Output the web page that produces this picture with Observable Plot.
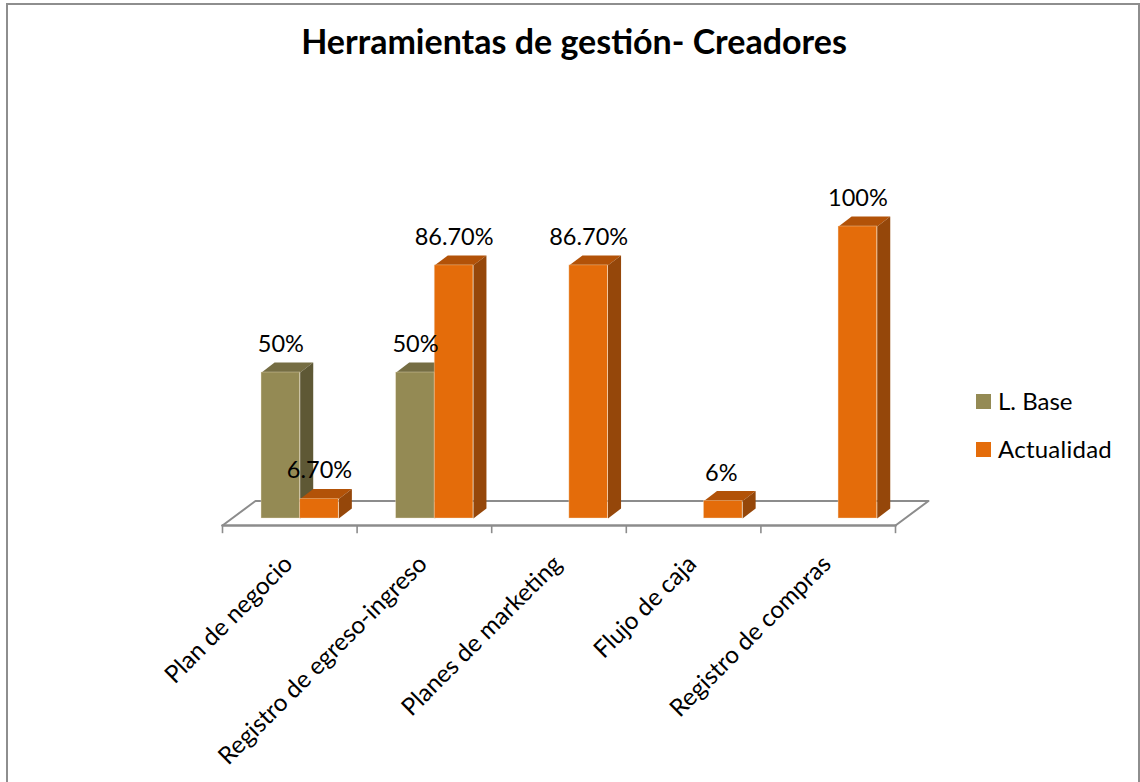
<!DOCTYPE html>
<html><head><meta charset="utf-8">
<script src="https://cdn.jsdelivr.net/npm/d3@7"></script>
<script src="https://cdn.jsdelivr.net/npm/@observablehq/plot@0.6"></script>
<style>
html,body{margin:0;padding:0;background:#fff;overflow:hidden}
#wrap{position:relative;width:1140px;height:782px;font-family:Lato,"Noto Sans",sans-serif;color:#000}
#wrap svg{position:absolute;left:0;top:0;background:transparent}
#frame{position:absolute;left:6px;top:3px;width:1130px;height:790px;border:2px solid #8e8e8e;box-sizing:content-box}
#title{position:absolute;left:0;width:1148px;top:20px;text-align:center;font-weight:700;font-size:34px;line-height:42px}
.lg{position:absolute;left:976px;display:flex;align-items:center;font-size:24px;line-height:30px}
.lg i{display:block;width:15px;height:15px;margin-right:7px}
</style></head><body>
<div id="wrap"><div id="frame"></div><div id="title">Herramientas de gestión- Creadores</div><div id="chart"></div>
<div class="lg" style="top:386px"><i style="background:#948A54"></i>L. Base</div>
<div class="lg" style="top:434px"><i style="background:#E46C0A"></i><span style="letter-spacing:.25px">Actualidad</span></div></div>
<script>
const categories = ["Plan de negocio","Registro de egreso-ingreso","Planes de marketing","Flujo de caja","Registro de compras"];
const series = ["L. Base","Actualidad"];
const baseValues = [50,50,null,null,null];
const actualValues = [6.7,86.7,86.7,6,100];
const baseLabels = ["50%","50%",null,null,null];
const actualLabels = ["6.70%","86.70%","86.70%","6%","100%"];
const frontColors = ["#948A54","#E46C0A"];
const topColors = ["#756D43","#B25208"];
const sideColors = ["#5E5835","#95470A"];

// layout in scale units: one category = 1 on x, percent on y
const barStart = 0.29, barW = 0.287, depthX = 0.097, depthY = 3.4;
const floorY = -2.4, tickY = -5.2, backY = 6, backX = 0.245;

const bars = [];
categories.forEach((c,i)=>{
  [baseValues,actualValues].forEach((vals,s)=>{
    if (vals[i]==null) return;
    const x1 = i + barStart + s*barW, x2 = x1 + barW;
    bars.push({c,s,series:series[s],value:vals[i],x1,x2,label:(s?actualLabels:baseLabels)[i]});
  });
});
const faces = [];
bars.forEach((b,k)=>{
  const top=[[b.x1,b.value],[b.x2,b.value],[b.x2+depthX,b.value+depthY],[b.x1+depthX,b.value+depthY]];
  const side=[[b.x2,0],[b.x2+depthX,depthY],[b.x2+depthX,b.value+depthY],[b.x2,b.value]];
  top.forEach(p=>faces.push({id:k+"t",s:b.s,fill:topColors[b.s],x:p[0],y:p[1]}));
  side.forEach(p=>faces.push({id:k+"r",s:b.s,fill:sideColors[b.s],x:p[0],y:p[1]}));
});
const floorPts = [[0,floorY],[backX,backY],[5+backX,backY],[5,floorY]].map(p=>({x:p[0],y:p[1]}));
const floorFront = [{x:0,y:floorY},{x:5,y:floorY}];
const ticks = d3.range(0,6);

function barMarks(s){
  return [
    Plot.line(faces.filter(f=>f.s===s),{x:"x",y:"y",z:"id",fill:"fill",stroke:"none",curve:"linear-closed"}),
    Plot.rect(bars.filter(b=>b.s===s),{x1:"x1",x2:"x2",y1:0,y2:"value",fill:"series",stroke:"#f3e6cf",strokeOpacity:0.45,strokeWidth:0.8})
  ];
}
const nudge = {"6%":-0.015};
const plot = Plot.plot({
  width:1140,height:782,margin:0,
  x:{domain:[0,5],range:[222,895],axis:null},
  y:{domain:[0,100],range:[518,226],axis:null},
  color:{domain:series,range:frontColors},
  style:{background:"transparent",fontFamily:"Lato, 'Noto Sans', sans-serif"},
  marks:[
    Plot.line(floorPts,{x:"x",y:"y",stroke:"#8c8c8c",strokeWidth:2,curve:"linear"}),
    Plot.line(floorFront,{x:"x",y:"y",stroke:"#8c8c8c",strokeWidth:2.5}),
    Plot.ruleX(ticks,{x:d=>d,y1:floorY,y2:tickY,stroke:"#8c8c8c",strokeWidth:1.6}),
    ...barMarks(0),
    ...barMarks(1),
    Plot.text(bars,{x:b=>(b.x1+b.x2)/2+(nudge[b.label]||0),y:"value",text:"label",dy:-28,fontSize:23.5,fill:"#000",lineAnchor:"middle"}),
    Plot.text(categories,{x:(d,i)=>i+0.49,y:-14.2,text:d=>d,rotate:-45,textAnchor:"end",lineAnchor:"middle",fontSize:24.3,fill:"#000"})
  ]
});
document.getElementById("chart").appendChild(plot);
</script></body></html>
